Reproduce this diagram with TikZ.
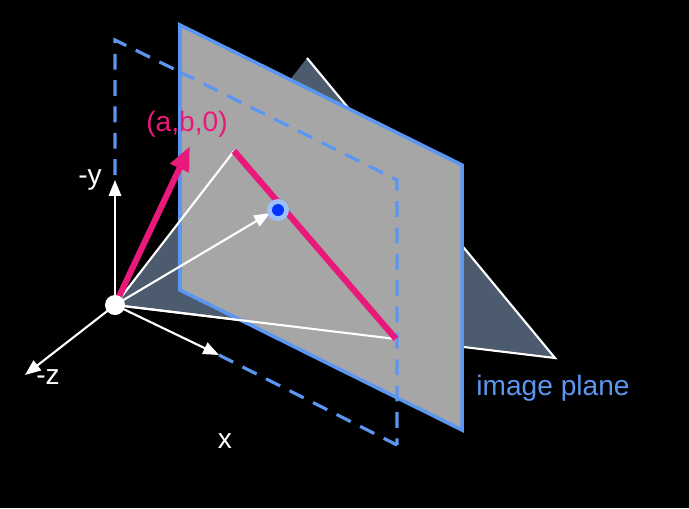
\documentclass[tikz,border=0pt]{standalone}
\usepackage{fontspec}
\setmainfont{Liberation Sans}
\usetikzlibrary{arrows.meta}
\definecolor{pblue}{HTML}{5B96F2}
\definecolor{ppink}{HTML}{E8197A}
\definecolor{slate}{HTML}{4D5B6E}
\definecolor{plane}{HTML}{A6A6A6}
\begin{document}
\begin{tikzpicture}[x=0.02cm,y=-0.02cm,
  wline/.style={white,line width=1.2pt},
  warrow/.style={white,line width=1.2pt,-{Triangle[length=9pt,width=7pt]}},
  dashb/.style={pblue,line width=1.8pt,dash pattern=on 9pt off 6pt},
  lbl/.style={font=\fontsize{16}{18}\selectfont}]
\useasboundingbox[fill=black] (0,0) rectangle (689,508);
\coordinate (O) at (115,305);
\coordinate (T) at (307,58);
\coordinate (R) at (555,358);
\coordinate (P1) at (234,151);
\coordinate (P2) at (396,339);
\coordinate (D) at (278,210);
% object triangle
\fill[slate] (O) -- (T) -- (R) -- cycle;
\draw[wline] (T) -- (R) -- (O);
% dashed rectangle (behind)
\draw[dashb] (115,175) -- (115,40) -- (180,72);
\draw[dashb] (219,355) -- (397,445);
% image plane
\filldraw[fill=plane,draw=pblue,line width=2pt] (180,25) -- (462,165) -- (462,430) -- (180,290) -- cycle;
\draw[dashb] (180,72) -- (397,180) -- (397,445);
% rays
\draw[wline] (O) -- (P1);
\draw[wline] (O) -- (P2);
\draw[ppink,line width=3.5pt] (P1) -- (P2);
\draw[warrow] (O) -- (270,213);
\draw[ppink,line width=3.5pt,-{Triangle[length=14pt,width=11pt]}] (O) -- (190,146);
% axes
\draw[warrow] (O) -- (115,180);
\draw[warrow] (O) -- (25,375);
\draw[warrow] (O) -- (219,355);
\fill[white] (O) circle (10);
\fill[pblue!60] (D) circle (11);
\fill[blue!80!cyan] (D) circle (6);
% labels
\node[lbl,white] (ly) at (90,180) {-y};
\node[lbl,white] (lz) at (48,377) {-z};
\node[lbl,white] (lx) at (225,441) {x};
\node[lbl,ppink] (lab) at (187,124) {(a,b,0)};
\node[lbl,pblue] (lip) at (553,388) {image plane};
\end{tikzpicture}
\end{document}
